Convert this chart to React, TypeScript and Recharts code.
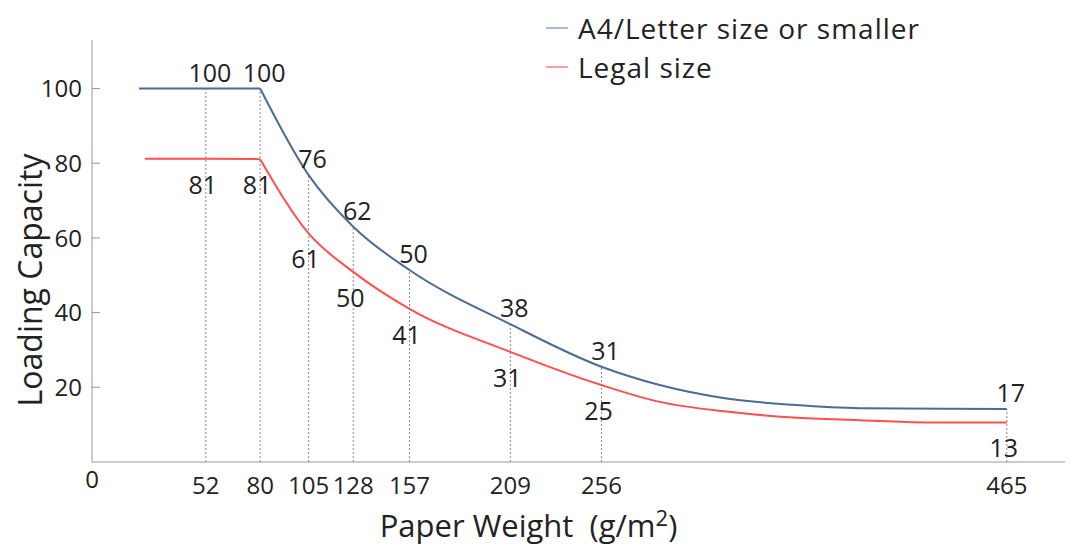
import { LineChart, Line, XAxis, YAxis, ReferenceLine, LabelList, Legend } from 'recharts'

// x ticks (paper weight, g/m2) and printed capacities at each of them
const paperWeights = [52, 80, 105, 128, 157, 209, 256, 465]
const a4Printed = [100, 100, 76, 62, 50, 38, 31, 17]
const legalPrinted = [81, 81, 61, 50, 41, 31, 25, 13]

// curves as drawn in the picture (weight, capacity)
const a4Weights = [17.5, 52, 80, 105, 128, 157, 209, 256, 286, 320.5, 354.8, 389.2, 465]
const a4Capacity = [100, 100, 100, 76.8, 63.0, 51.4, 36.9, 25.5, 20.6, 17.0, 15.3, 14.4, 14.2]
const legalWeights = [20.6, 52, 80, 105, 128, 157, 209, 256, 286, 320.5, 354.8, 389.2, 423.6, 465]
const legalCapacity = [81.2, 81.2, 81.1, 61.2, 50.9, 41.0, 29.5, 20.6, 16.1, 13.5, 11.9, 11.2, 10.6, 10.6]

const yTicks = [20, 40, 60, 80, 100]

const KNEE = 80 // flat up to here, then the curve drops
const X_ORIGIN = -6.7 // left end of the axis, printed as "0"
const X_MAX = 495
const Y_MAX = 113

const FONT = '"Open Sans", sans-serif'
const TEXT = '#222'

const series = [
    { key: 'a4', name: 'A4/Letter size or smaller', color: '#4b6c95', legendColor: '#a9bdd2' },
    { key: 'legal', name: 'Legal size', color: '#ff4f4f', legendColor: '#ff9c9c' },
]

const buildRows = (weights: number[], caps: number[], printed: number[]) =>
    weights.map((w, i) => {
        const k = paperWeights.indexOf(w)
        return { w, cap: caps[i], printed: k >= 0 ? printed[k] : null }
    })

const a4Rows = buildRows(a4Weights, a4Capacity, a4Printed)
const legalRows = buildRows(legalWeights, legalCapacity, legalPrinted)

const a4At = (w: number) => a4Capacity[a4Weights.indexOf(w)]

const pointLabel = (dx: number, dy: number) => (props: any) => {
    const { x, y, value } = props
    if (value == null) return null
    return (
        <text
            x={x + dx}
            y={y + dy}
            textAnchor="middle"
            dominantBaseline="central"
            fontFamily={FONT}
            fontSize={25}
            fill={TEXT}
        >
            {value}
        </text>
    )
}

const XTick = (props: any) => {
    const { x, y, payload } = props
    const isOrigin = payload.value === X_ORIGIN
    return (
        <text x={x} y={y + (isOrigin ? 26 : 32)} textAnchor="middle" fontFamily={FONT} fontSize={24} fill={TEXT}>
            {isOrigin ? '0' : String(payload.value)}
        </text>
    )
}

const YTick = (props: any) => {
    const { x, y, payload } = props
    return (
        <g>
            <line x1={x + 10} x2={x + 18} y1={y} y2={y} stroke="#999" strokeWidth={1} />
            <text x={x} y={y} dy="0.36em" textAnchor="end" fontFamily={FONT} fontSize={24} fill={TEXT}>
                {payload.value}
            </text>
        </g>
    )
}

const XTitle = (props: any) => {
    const { x, y, width } = props.viewBox
    return (
        <text x={x + width / 2 - 50} y={y + 75} textAnchor="middle" fontFamily={FONT} fontSize={31} fill={TEXT}>
            {'Paper Weight\u00a0\u00a0(g/m'}
            <tspan fontSize={22} dy={-11}>2</tspan>
            <tspan dy={11}>)</tspan>
        </text>
    )
}

const YTitle = (props: any) => {
    const { x, y, height } = props.viewBox
    const cx = x + 10
    const cy = y + height / 2 + 29
    return (
        <text
            x={cx}
            y={cy}
            transform={`rotate(-90, ${cx}, ${cy})`}
            textAnchor="middle"
            fontFamily={FONT}
            fontSize={32}
            fill={TEXT}
        >
            Loading Capacity
        </text>
    )
}

const LegendBox = () => (
    <svg width={440} height={84}>
        {series.map((s, i) => (
            <g key={s.key}>
                <line x1={6} x2={28} y1={20 + i * 39} y2={20 + i * 39} stroke={s.legendColor} strokeWidth={2} />
                <text
                    x={38}
                    y={20 + i * 39}
                    dominantBaseline="central"
                    fontFamily={FONT}
                    fontSize={28}
                    letterSpacing={1}
                    fill={TEXT}
                >
                    {s.name}
                </text>
            </g>
        ))}
    </svg>
)

// plateau drawn straight, the drop drawn smooth, so the corner at KNEE stays sharp
const drawSeries = (rows: any[], color: string, dy: number, key: string) => [
    <Line
        key={`${key}-flat`}
        data={rows.filter(r => r.w <= KNEE)}
        dataKey="cap"
        type="linear"
        stroke={color}
        strokeWidth={2}
        dot={false}
        activeDot={false}
        isAnimationActive={false}
    />,
    <Line
        key={`${key}-drop`}
        data={rows.filter(r => r.w >= KNEE)}
        dataKey="cap"
        type="monotone"
        stroke={color}
        strokeWidth={2}
        dot={false}
        activeDot={false}
        isAnimationActive={false}
    />,
    <Line
        key={`${key}-labels`}
        data={rows}
        dataKey="cap"
        stroke="none"
        dot={false}
        activeDot={false}
        isAnimationActive={false}
    >
        <LabelList dataKey="printed" content={pointLabel(dy < 0 ? 4 : -3, dy)} />
    </Line>,
]

export default function App() {
    return (
        <div style={{ position: 'absolute', left: 0, top: 0, width: 1073, height: 548, background: '#fff' }}>
            <LineChart width={1073} height={548} margin={{ top: 40, right: 8, left: 32, bottom: 46 }}>
                <XAxis
                    dataKey="w"
                    type="number"
                    domain={[X_ORIGIN, X_MAX]}
                    ticks={[X_ORIGIN, ...paperWeights]}
                    interval={0}
                    allowDataOverflow
                    height={40}
                    stroke="#999"
                    tickLine={false}
                    tickSize={0}
                    tickMargin={0}
                    tick={<XTick />}
                    label={{ content: (p: any) => <XTitle {...p} /> }}
                />
                <YAxis
                    type="number"
                    domain={[0, Y_MAX]}
                    ticks={yTicks}
                    interval={0}
                    width={60}
                    stroke="#999"
                    tickLine={false}
                    tickSize={0}
                    tickMargin={10}
                    tick={<YTick />}
                    label={{ content: (p: any) => <YTitle {...p} /> }}
                />

                {/* pointillés verticaux sous chaque graduation */}
                {paperWeights.map(w => (
                    <ReferenceLine
                        key={w}
                        segment={[
                            { x: w, y: 0 },
                            { x: w, y: a4At(w) },
                        ]}
                        stroke="#8a8a8a"
                        strokeWidth={1}
                        strokeDasharray="2 2"
                    />
                ))}

                {drawSeries(a4Rows, series[0].color, -17, 'a4')}
                {drawSeries(legalRows, series[1].color, 25, 'legal')}

                <Legend
                    layout="vertical"
                    align="center"
                    verticalAlign="middle"
                    wrapperStyle={{ left: 540, top: 8, width: 440, height: 84 }}
                    content={<LegendBox />}
                />
            </LineChart>
        </div>
    )
}
